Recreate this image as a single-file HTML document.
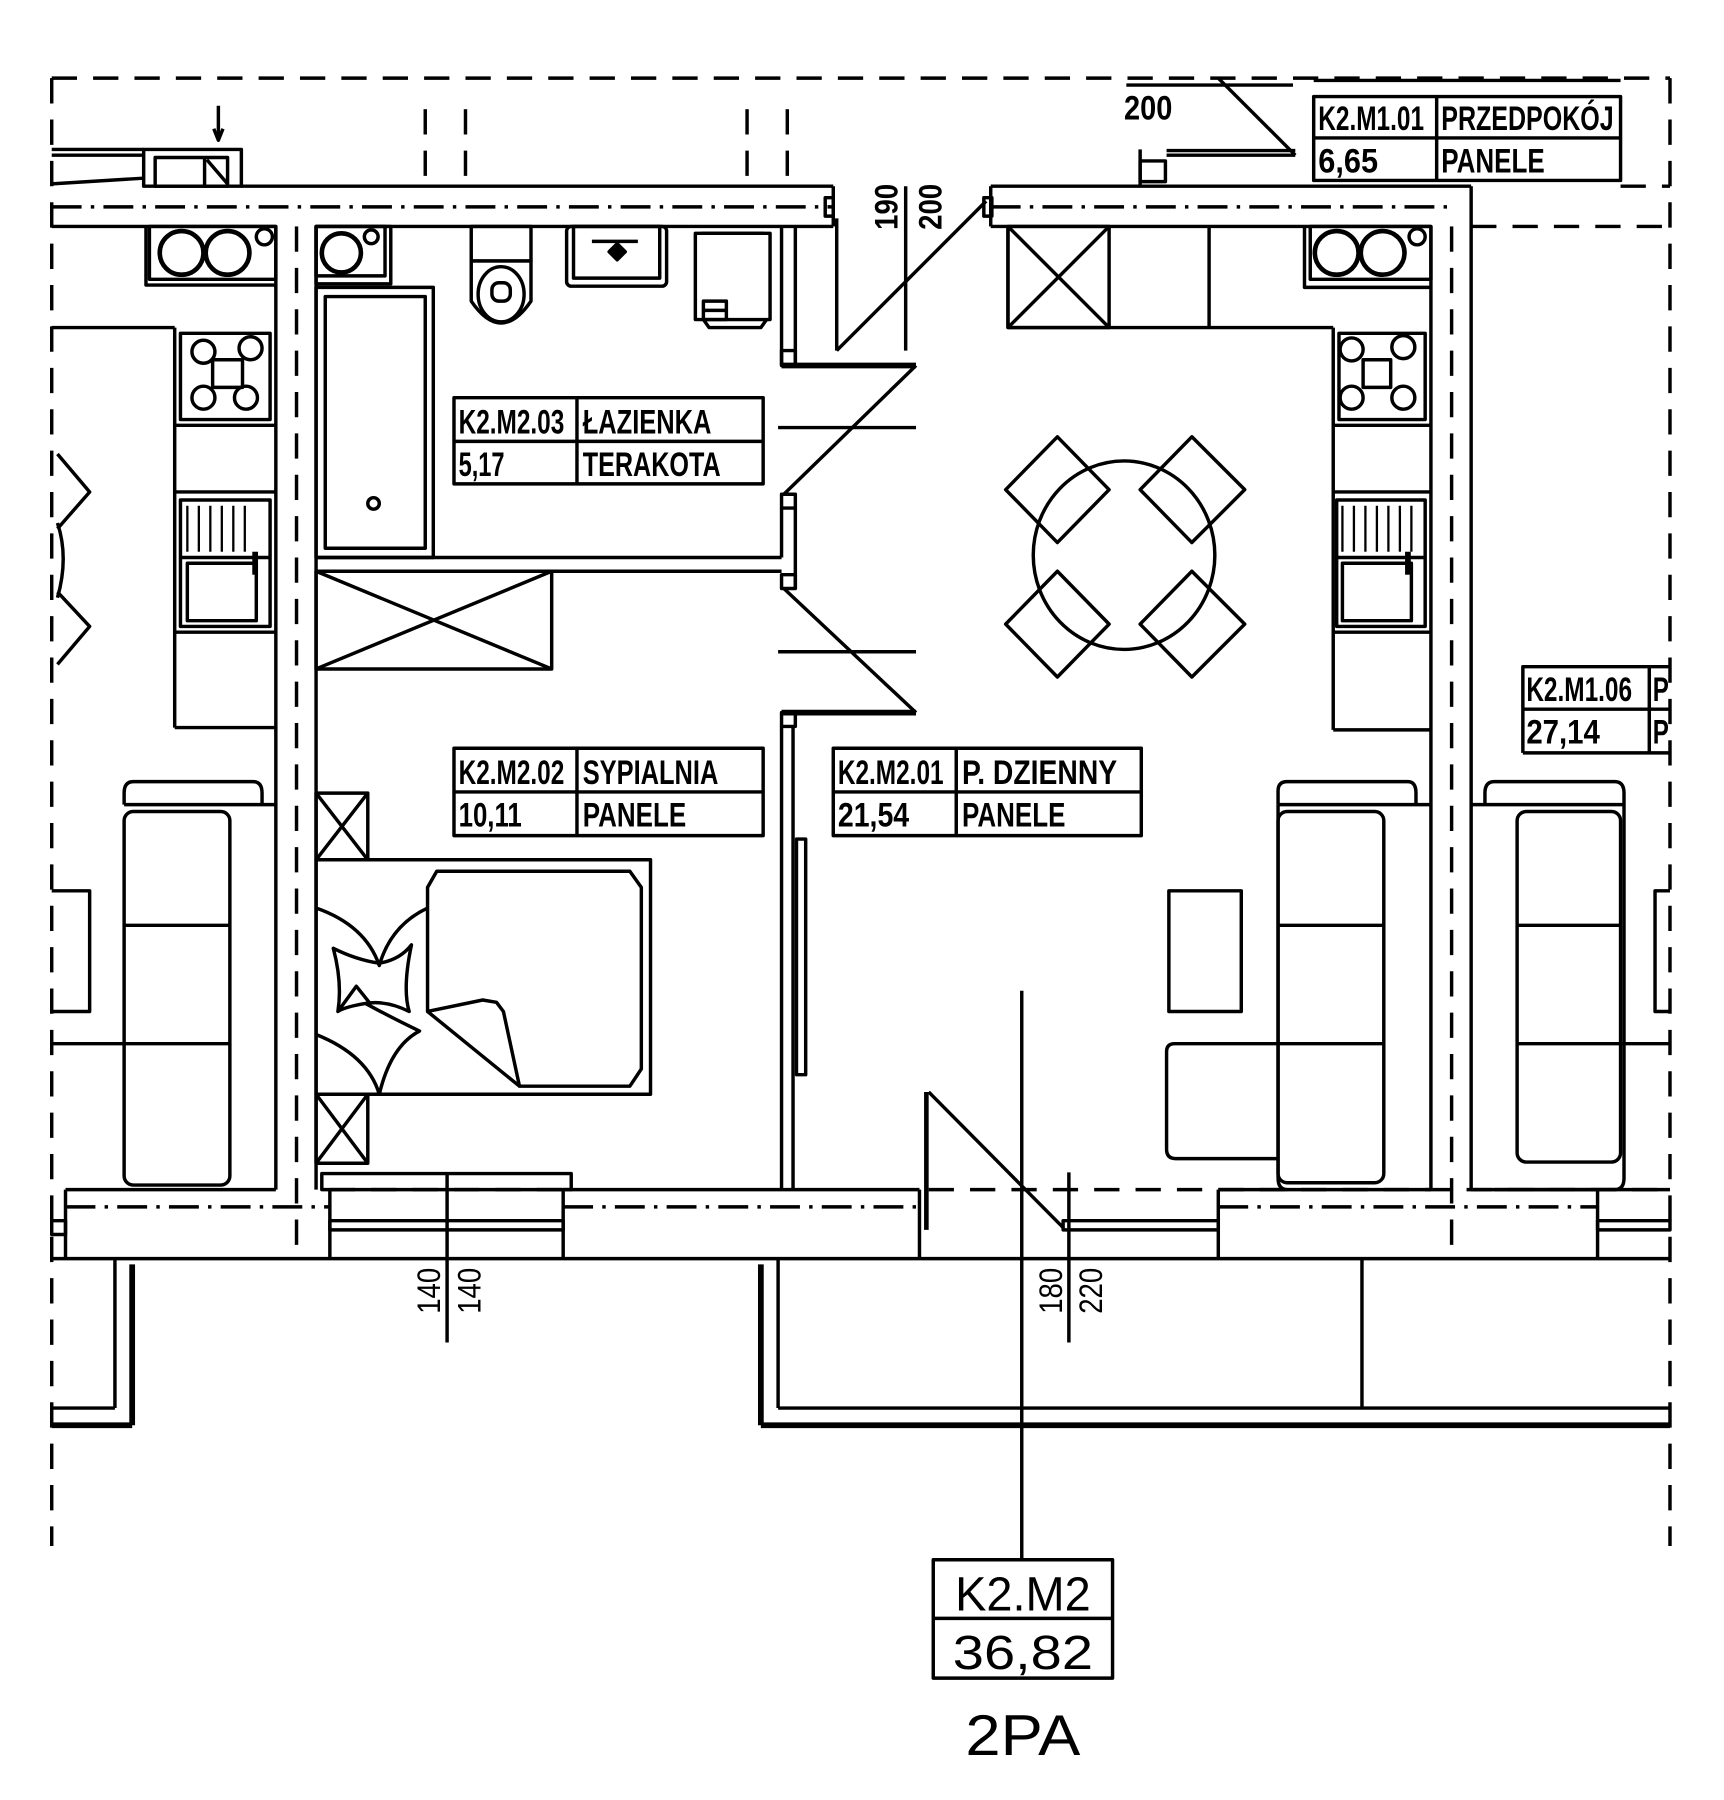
<!DOCTYPE html>
<html><head><meta charset="utf-8"><style>
html,body{margin:0;padding:0;background:#fff;}
svg{display:block;}
text{font-family:"Liberation Sans","DejaVu Sans",sans-serif;fill:#000;}
.b text{font-weight:bold;}
</style></head><body>
<svg width="1724" height="1800" viewBox="0 0 1500 1566" preserveAspectRatio="none" xmlns="http://www.w3.org/2000/svg">
<g fill="none" stroke="#000" stroke-width="3" stroke-linejoin="round">
<g stroke-dasharray="22,14">
<line x1="45" y1="68" x2="1453" y2="68"/>
<line x1="45" y1="68" x2="45" y2="1345"/>
<line x1="1453" y1="68" x2="1453" y2="1345"/>
<line x1="1280" y1="197" x2="1453" y2="197"/>
<line x1="1410" y1="162" x2="1453" y2="162"/>
<line x1="808" y1="1035" x2="1453" y2="1035"/>
<line x1="287" y1="1035" x2="490" y2="1035"/>
<line x1="370" y1="95" x2="370" y2="162"/><line x1="405" y1="95" x2="405" y2="162"/>
<line x1="650" y1="95" x2="650" y2="162"/><line x1="685" y1="95" x2="685" y2="162"/>
<line x1="1263" y1="197" x2="1263" y2="1095"/>
<line x1="258" y1="197" x2="258" y2="1095"/>
</g>
<g stroke-dasharray="26,8,3,8">
<line x1="45" y1="180" x2="725" y2="180"/>
<line x1="862" y1="180" x2="1263" y2="180"/>
<line x1="57" y1="1050" x2="287" y2="1050"/>
<line x1="490" y1="1050" x2="800" y2="1050"/>
<line x1="1060" y1="1050" x2="1390" y2="1050"/>
</g>
<line x1="210" y1="162" x2="725" y2="162"/>
<line x1="45" y1="197" x2="240" y2="197"/>
<line x1="275" y1="197" x2="725" y2="197"/>
<line x1="862" y1="162" x2="1280" y2="162"/>
<line x1="862" y1="197" x2="1245" y2="197"/>
<line x1="725" y1="162" x2="725" y2="197"/>
<line x1="862" y1="162" x2="862" y2="197"/>
<rect x="718" y="172" width="7" height="16"/><rect x="856" y="172" width="7" height="16"/>
<line x1="240" y1="197" x2="240" y2="1035"/>
<line x1="275" y1="197" x2="275" y2="1035"/>
<line x1="1245" y1="197" x2="1245" y2="1035"/>
<line x1="1280" y1="162" x2="1280" y2="1035"/>
<line x1="45" y1="1095" x2="1453" y2="1095"/>
<line x1="57" y1="1035" x2="240" y2="1035"/>
<line x1="490" y1="1035" x2="800" y2="1035"/>
<line x1="1060" y1="1035" x2="1245" y2="1035"/>
<line x1="1280" y1="1035" x2="1453" y2="1035"/>
<line x1="57" y1="1035" x2="57" y2="1095"/>
<line x1="287" y1="1035" x2="287" y2="1095"/><line x1="490" y1="1035" x2="490" y2="1095"/>
<rect x="280" y="1021" width="217" height="14"/>
<rect x="287" y="1062" width="203" height="8"/>
<line x1="800" y1="1035" x2="800" y2="1095"/>
<line x1="1060" y1="1035" x2="1060" y2="1095"/>
<rect x="925" y="1062" width="135" height="8"/>
<line x1="1390" y1="1035" x2="1390" y2="1095"/>
<rect x="1390" y="1062" width="63" height="8"/>
<rect x="45" y="1062" width="12" height="12"/>
<line x1="806" y1="950" x2="806" y2="1070" stroke-width="4"/>
<line x1="808" y1="950" x2="925" y2="1068"/>
<line x1="100" y1="1095" x2="100" y2="1225"/><line x1="45" y1="1225" x2="100" y2="1225"/>
<line x1="115" y1="1100" x2="115" y2="1240" stroke-width="5"/><line x1="45" y1="1240" x2="115" y2="1240" stroke-width="5"/>
<line x1="677" y1="1095" x2="677" y2="1225"/><line x1="677" y1="1225" x2="1453" y2="1225"/>
<line x1="662" y1="1100" x2="662" y2="1240" stroke-width="5"/><line x1="662" y1="1240" x2="1453" y2="1240" stroke-width="5"/>
<line x1="1185" y1="1095" x2="1185" y2="1225"/>
<line x1="889" y1="862" x2="889" y2="1357"/>
<line x1="389" y1="1020" x2="389" y2="1168"/>
<line x1="930" y1="1020" x2="930" y2="1168"/>
<line x1="788" y1="162" x2="788" y2="305"/>
<rect x="812" y="1357" width="156" height="103"/>
<line x1="812" y1="1408" x2="968" y2="1408"/>
<line x1="680" y1="197" x2="680" y2="318"/><line x1="692" y1="197" x2="692" y2="318"/>
<rect x="680" y="305" width="12" height="13"/>
<line x1="680" y1="318" x2="797" y2="318" stroke-width="5"/>
<line x1="728" y1="190" x2="728" y2="305"/>
<line x1="728" y1="305" x2="858" y2="175"/>
<line x1="677" y1="372" x2="797" y2="372"/>
<line x1="797" y1="318" x2="682" y2="430"/>
<rect x="680" y="430" width="12" height="12"/>
<line x1="680" y1="442" x2="680" y2="485"/><line x1="692" y1="442" x2="692" y2="512"/>
<line x1="275" y1="485" x2="680" y2="485"/>
<line x1="275" y1="497" x2="680" y2="497"/>
<rect x="680" y="500" width="12" height="12"/>
<line x1="682" y1="512" x2="797" y2="620"/>
<line x1="677" y1="567" x2="797" y2="567"/>
<line x1="680" y1="620" x2="797" y2="620" stroke-width="5"/>
<rect x="680" y="620" width="12" height="12"/>
<line x1="680" y1="632" x2="680" y2="1035"/><line x1="690" y1="632" x2="690" y2="1035"/>
<rect x="693" y="730" width="8" height="205" stroke-width="3"/>
<rect x="275" y="197" width="65" height="50"/><rect x="275" y="197" width="60" height="43"/>
<circle cx="297" cy="220" r="17" stroke-width="4"/><circle cx="323" cy="206" r="6"/>
<rect x="275" y="250" width="102" height="235"/>
<rect x="283" y="258" width="87" height="219"/>
<circle cx="325" cy="438" r="5"/>
<rect x="410" y="197" width="52" height="30"/>
<path d="M410 227 L410 262 Q436 300 462 262 L462 227 Z"/>
<ellipse cx="436" cy="256" rx="20" ry="24"/>
<rect x="428" y="246" width="16" height="16" rx="6"/>
<rect x="493" y="197" width="87" height="52" rx="4"/>
<rect x="499" y="197" width="75" height="45"/>
<line x1="515" y1="210" x2="555" y2="210"/>
<path d="M537 212 l7 7 -7 7 -7 -7z" fill="#000"/>
<rect x="605" y="203" width="65" height="75"/>
<line x1="610" y1="203" x2="665" y2="203"/>
<path d="M612 278 l5 7 h45 l5 -7"/>
<rect x="612" y="262" width="20" height="16"/><line x1="612" y1="270" x2="632" y2="270"/>
<rect x="275" y="497" width="205" height="85"/>
<line x1="275" y1="497" x2="480" y2="582"/><line x1="275" y1="582" x2="480" y2="497"/>
<rect x="275" y="690" width="45" height="58"/><line x1="275" y1="690" x2="320" y2="748"/><line x1="275" y1="748" x2="320" y2="690"/>
<rect x="275" y="952" width="45" height="60"/><line x1="275" y1="952" x2="320" y2="1012"/><line x1="275" y1="1012" x2="320" y2="952"/>
<rect x="275" y="748" width="291" height="204"/>
<path d="M372 772 L380 758 L548 758 L558 772 L558 930 L548 945 L452 945 L438 880 L432 872 L420 870 L372 880 Z"/>
<path d="M372 880 L452 945"/>
<path d="M275 790 Q318 805 330 840 Q340 805 372 790"/>
<path d="M290 825 Q310 835 330 838 Q348 835 358 822 Q350 860 356 880 Q336 870 318 873 Q300 876 294 880 Q298 855 290 825 Z"/>
<path d="M294 880 L310 858 L322 873"/>
<path d="M318 873 Q340 885 365 897 Q340 910 330 952 Q320 918 275 900"/>
<line x1="877" y1="197" x2="877" y2="285"/>
<line x1="877" y1="285" x2="1160" y2="285"/>
<rect x="877" y="197" width="88" height="88"/>
<line x1="877" y1="197" x2="965" y2="285"/><line x1="877" y1="285" x2="965" y2="197"/>
<line x1="1052" y1="197" x2="1052" y2="285"/>
<path d="M1135 197 L1135 250 L1245 250"/>
<rect x="1140" y="197" width="105" height="46"/>
<circle cx="1163" cy="220" r="19" stroke-width="4"/><circle cx="1203" cy="220" r="19" stroke-width="4"/><circle cx="1233" cy="206" r="7"/>
<line x1="1160" y1="285" x2="1160" y2="635"/><line x1="1160" y1="635" x2="1245" y2="635"/>
<rect x="1165" y="290" width="75" height="75"/>
<circle cx="1176" cy="304" r="10"/><circle cx="1221" cy="302" r="10"/><circle cx="1176" cy="346" r="10"/><circle cx="1221" cy="346" r="10"/>
<rect x="1186" y="313" width="24" height="24"/>
<line x1="1160" y1="370" x2="1245" y2="370"/>
<line x1="1160" y1="428" x2="1245" y2="428"/>
<rect x="1163" y="435" width="77" height="110"/>
<g stroke-width="2"><line x1="1168" y1="440" x2="1168" y2="480"/><line x1="1178" y1="440" x2="1178" y2="480"/><line x1="1188" y1="440" x2="1188" y2="480"/><line x1="1198" y1="440" x2="1198" y2="480"/><line x1="1208" y1="440" x2="1208" y2="480"/><line x1="1218" y1="440" x2="1218" y2="480"/><line x1="1228" y1="440" x2="1228" y2="480"/></g>
<line x1="1163" y1="485" x2="1240" y2="485"/>
<rect x="1168" y="490" width="60" height="50"/>
<line x1="1225" y1="480" x2="1225" y2="500" stroke-width="5"/>
<line x1="1160" y1="550" x2="1245" y2="550"/>
<line x1="45" y1="285" x2="152" y2="285"/>
<path d="M127 197 L127 248 L240 248"/>
<rect x="130" y="197" width="110" height="46"/>
<circle cx="158" cy="220" r="19" stroke-width="4"/><circle cx="198" cy="220" r="19" stroke-width="4"/><circle cx="230" cy="206" r="7"/>
<line x1="152" y1="285" x2="152" y2="633"/><line x1="152" y1="633" x2="240" y2="633"/>
<rect x="157" y="290" width="78" height="75"/>
<circle cx="177" cy="306" r="10"/><circle cx="218" cy="303" r="10"/><circle cx="177" cy="346" r="10"/><circle cx="214" cy="346" r="10"/>
<rect x="185" y="313" width="26" height="24"/>
<line x1="152" y1="370" x2="240" y2="370"/>
<line x1="152" y1="428" x2="240" y2="428"/>
<rect x="157" y="435" width="78" height="110"/>
<g stroke-width="2"><line x1="163" y1="440" x2="163" y2="480"/><line x1="173" y1="440" x2="173" y2="480"/><line x1="183" y1="440" x2="183" y2="480"/><line x1="193" y1="440" x2="193" y2="480"/><line x1="203" y1="440" x2="203" y2="480"/><line x1="213" y1="440" x2="213" y2="480"/></g>
<line x1="157" y1="485" x2="235" y2="485"/>
<rect x="163" y="490" width="60" height="50"/>
<line x1="222" y1="480" x2="222" y2="500" stroke-width="5"/>
<line x1="152" y1="550" x2="240" y2="550"/>
<path d="M50 395 L78 428 L50 460 M50 515 L78 545 L50 578"/>
<path d="M50 455 Q60 485 50 520"/>
<ellipse cx="978" cy="483" rx="79" ry="82"/>
<path d="M920 380 L965 426 L920 472 L875 426 Z"/>
<path d="M1037 380 L1083 426 L1037 472 L992 426 Z"/>
<path d="M920 497 L965 543 L920 589 L875 543 Z"/>
<path d="M1037 497 L1083 543 L1037 589 L992 543 Z"/>
<path d="M1112 700 L1112 688 Q1112 680 1120 680 L1225 680 Q1232 680 1232 690 L1232 700"/>
<line x1="1112" y1="700" x2="1245" y2="700"/>
<line x1="1112" y1="700" x2="1112" y2="1025"/>
<path d="M1112 1025 Q1112 1035 1120 1035"/>
<rect x="1112" y="706" width="92" height="323" rx="8"/>
<line x1="1112" y1="805" x2="1204" y2="805"/><line x1="1112" y1="908" x2="1204" y2="908"/>
<path d="M1112 908 L1022 908 Q1015 908 1015 915 L1015 1000 Q1015 1008 1023 1008 L1112 1008"/>
<rect x="1017" y="775" width="63" height="105"/>
<path d="M1292 700 L1292 690 Q1292 680 1300 680 L1405 680 Q1413 680 1413 690 L1413 1025 Q1413 1035 1405 1035 L1300 1035"/>
<line x1="1280" y1="700" x2="1413" y2="700"/>
<rect x="1320" y="706" width="90" height="305" rx="8"/>
<line x1="1320" y1="805" x2="1410" y2="805"/><line x1="1320" y1="908" x2="1453" y2="908"/>
<path d="M1453 775 L1440 775 L1440 880 L1453 880"/>
<path d="M108 700 L108 690 Q108 680 116 680 L220 680 Q228 680 228 690 L228 700"/>
<line x1="108" y1="700" x2="240" y2="700"/>
<rect x="108" y="706" width="92" height="325" rx="8"/>
<line x1="108" y1="805" x2="200" y2="805"/><line x1="45" y1="908" x2="200" y2="908"/>
<path d="M45 775 L78 775 L78 880 L45 880"/>
<path d="M45 130 L125 130 M45 135 L125 135 M45 160 L125 155"/>
<rect x="125" y="130" width="85" height="32"/>
<rect x="135" y="137" width="63" height="25"/>
<line x1="178" y1="137" x2="178" y2="162"/><line x1="180" y1="139" x2="198" y2="160"/>
<line x1="190" y1="92" x2="190" y2="120"/><path d="M186 112 L190 122 L194 112"/>
<line x1="1060" y1="68" x2="1127" y2="135"/>
<line x1="1015" y1="131" x2="1127" y2="131"/><line x1="1015" y1="135" x2="1127" y2="135"/>
<rect x="992" y="140" width="22" height="18"/>
<line x1="992" y1="130" x2="992" y2="162"/>
<line x1="980" y1="74" x2="1125" y2="74"/>
<rect x="395" y="346" width="269" height="75"/><line x1="395" y1="384" x2="664" y2="384"/><line x1="502" y1="346" x2="502" y2="421"/>
<rect x="395" y="651" width="269" height="76"/><line x1="395" y1="689" x2="664" y2="689"/><line x1="502" y1="651" x2="502" y2="727"/>
<rect x="725" y="651" width="268" height="76"/><line x1="725" y1="689" x2="993" y2="689"/><line x1="832" y1="651" x2="832" y2="727"/>
<rect x="1143" y="84" width="267" height="73"/><line x1="1143" y1="120" x2="1410" y2="120"/><line x1="1250" y1="84" x2="1250" y2="157"/>
<line x1="1143" y1="70" x2="1410" y2="70"/>
<path d="M1325 655 L1325 580 L1453 580 M1325 617 L1453 617 M1325 655 L1453 655 M1435 580 L1435 655"/>
</g>
<g font-size="30" class="b">
<text x="399" y="377" textLength="92" lengthAdjust="spacingAndGlyphs">K2.M2.03</text>
<text x="507" y="377" textLength="112" lengthAdjust="spacingAndGlyphs">ŁAZIENKA</text>
<text x="399" y="414" textLength="40" lengthAdjust="spacingAndGlyphs">5,17</text>
<text x="507" y="414" textLength="120" lengthAdjust="spacingAndGlyphs">TERAKOTA</text>
<text x="399" y="682" textLength="92" lengthAdjust="spacingAndGlyphs">K2.M2.02</text>
<text x="507" y="682" textLength="118" lengthAdjust="spacingAndGlyphs">SYPIALNIA</text>
<text x="399" y="719" textLength="55" lengthAdjust="spacingAndGlyphs">10,11</text>
<text x="507" y="719" textLength="90" lengthAdjust="spacingAndGlyphs">PANELE</text>
<text x="729" y="682" textLength="92" lengthAdjust="spacingAndGlyphs">K2.M2.01</text>
<text x="837" y="682" textLength="135" lengthAdjust="spacingAndGlyphs">P. DZIENNY</text>
<text x="729" y="719" textLength="62" lengthAdjust="spacingAndGlyphs">21,54</text>
<text x="837" y="719" textLength="90" lengthAdjust="spacingAndGlyphs">PANELE</text>
<text x="1147" y="113" textLength="92" lengthAdjust="spacingAndGlyphs">K2.M1.01</text>
<text x="1254" y="113" textLength="150" lengthAdjust="spacingAndGlyphs">PRZEDPOKÓJ</text>
<text x="1147" y="150" textLength="52" lengthAdjust="spacingAndGlyphs">6,65</text>
<text x="1254" y="150" textLength="90" lengthAdjust="spacingAndGlyphs">PANELE</text>
<text x="1328" y="610" textLength="92" lengthAdjust="spacingAndGlyphs">K2.M1.06</text>
<text x="1328" y="647" textLength="64" lengthAdjust="spacingAndGlyphs">27,14</text>
<text x="1438" y="610" textLength="14" lengthAdjust="spacingAndGlyphs">P</text>
<text x="1438" y="647" textLength="14" lengthAdjust="spacingAndGlyphs">P</text>
<text x="978" y="104" textLength="42" lengthAdjust="spacingAndGlyphs">200</text>
</g>
<g font-size="28">
<text transform="translate(383,1143) rotate(-90)" textLength="40" lengthAdjust="spacingAndGlyphs">140</text>
<text transform="translate(418,1143) rotate(-90)" textLength="40" lengthAdjust="spacingAndGlyphs">140</text>
<text transform="translate(924,1143) rotate(-90)" textLength="40" lengthAdjust="spacingAndGlyphs">180</text>
<text transform="translate(959,1143) rotate(-90)" textLength="40" lengthAdjust="spacingAndGlyphs">220</text>
<text transform="translate(781,200) rotate(-90)" textLength="40" lengthAdjust="spacingAndGlyphs" font-weight="bold">190</text>
<text transform="translate(819,200) rotate(-90)" textLength="40" lengthAdjust="spacingAndGlyphs" font-weight="bold">200</text>
</g>
<text x="890" y="1401" font-size="42" text-anchor="middle" textLength="118" lengthAdjust="spacingAndGlyphs">K2.M2</text>
<text x="890" y="1452" font-size="42" text-anchor="middle" textLength="122" lengthAdjust="spacingAndGlyphs">36,82</text>
<text x="890" y="1527" font-size="50" text-anchor="middle" textLength="100" lengthAdjust="spacingAndGlyphs">2PA</text>
</svg>
</body></html>
